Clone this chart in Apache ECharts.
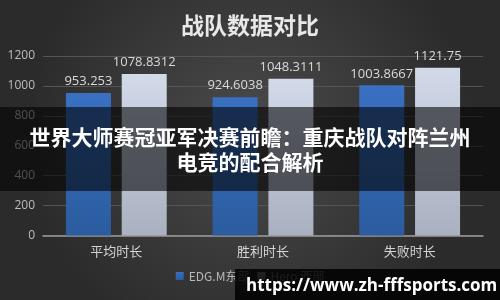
<!DOCTYPE html>
<html>
<head>
<meta charset="utf-8">
<script src="https://cdn.jsdelivr.net/npm/echarts@6/dist/echarts.min.js"></script>
<style>html,body{margin:0;padding:0;background:#333;}#c{width:500px;height:300px;}</style>
</head>
<body>
<div id="c"></div>
<script>
var categories = ['平均时长', '胜利时长', '失败时长'];
var seriesNames = ['EDG.M东部', 'Hero 西部'];
var edgValues = [953.253, 924.6038, 1003.8667];
var heroValues = [1078.8312, 1048.3111, 1121.75];
var yTicks = [0, 200, 400, 600, 800, 1000, 1200];
var chartTitle = '战队数据对比';
var overlayTitle = '世界大师赛冠亚军决赛前瞻：重庆战队对阵兰州\n电竞的配合解析';
var watermark = 'https://www.zh-fffsports.com';

var chart = echarts.init(document.getElementById('c'), null, {renderer: 'canvas'});
var cjk = '"Noto Sans CJK SC", "Open Sans", sans-serif';
chart.setOption({
  animation: false,
  backgroundColor: {
    type: 'radial', x: 0.5, y: 0.45, r: 0.75,
    colorStops: [{offset: 0, color: '#4b4b4b'}, {offset: 1, color: '#2b2b2b'}]
  },
  textStyle: {fontFamily: cjk},
  title: {
    text: chartTitle, left: 'center', top: 9,
    textStyle: {color: '#e8e8e8', fontSize: 23, fontWeight: 'bold', fontFamily: cjk}
  },
  legend: {
    bottom: 13, left: 'center', itemWidth: 8, itemHeight: 8, itemGap: 8, icon: 'rect',
    textStyle: {color: '#b8b8b8', fontSize: 12, fontFamily: cjk},
    data: seriesNames
  },
  grid: {left: 43, right: 17, top: 56, bottom: 64.5},
  xAxis: {
    type: 'category', data: categories,
    axisLine: {lineStyle: {color: '#9a9a9a', width: 1.5}},
    axisTick: {show: false},
    axisLabel: {color: '#d4d4d4', fontSize: 13, margin: 9, fontFamily: cjk}
  },
  yAxis: {
    type: 'value', min: yTicks[0], max: yTicks[yTicks.length - 1], interval: 200,
    axisLine: {show: false}, axisTick: {show: false},
    axisLabel: {color: '#bdbdbd', fontSize: 12, margin: 8, fontFamily: '"Open Sans", sans-serif',
      formatter: function (v) { return String(v); }},
    splitLine: {lineStyle: {color: '#555555', width: 1}}
  },
  series: [
    {
      name: seriesNames[0], type: 'bar', data: edgValues, barWidth: 45, barGap: '24%',
      itemStyle: {color: {type: 'linear', x: 0, y: 0, x2: 0, y2: 1,
        colorStops: [{offset: 0, color: '#3a70c2'}, {offset: 1, color: '#2b5c9f'}]}},
      label: {show: true, position: 'top', distance: 5, color: '#dadada', fontSize: 13,
        fontFamily: '"Open Sans", sans-serif'}
    },
    {
      name: seriesNames[1], type: 'bar', data: heroValues, barWidth: 45,
      itemStyle: {color: {type: 'linear', x: 0, y: 0, x2: 0, y2: 1,
        colorStops: [{offset: 0, color: '#d2d9e8'}, {offset: 1, color: '#a9b0c0'}]}},
      label: {show: true, position: 'top', distance: 5, color: '#dadada', fontSize: 13,
        fontFamily: '"Open Sans", sans-serif'}
    }
  ],
  graphic: [
    {type: 'rect', left: 0, top: 107, z: 100,
      shape: {width: 500, height: 84}, style: {fill: 'rgba(0,0,0,0.58)'}},
    {type: 'text', z: 101, x: 250, y: 150,
      style: {text: overlayTitle, fill: '#ffffff', font: 'bold 21px "Noto Sans CJK SC"',
        align: 'center', verticalAlign: 'middle', lineHeight: 25}},
    {type: 'rect', left: 235, top: 269, z: 100,
      shape: {width: 265, height: 31}, style: {fill: 'rgba(0,0,0,0.85)'}},
    {type: 'text', z: 101, x: 246, y: 286,
      style: {text: watermark, fill: '#ffffff', font: 'bold 17px "Open Sans"',
        align: 'left', verticalAlign: 'middle'}}
  ]
});
</script>
</body>
</html>
